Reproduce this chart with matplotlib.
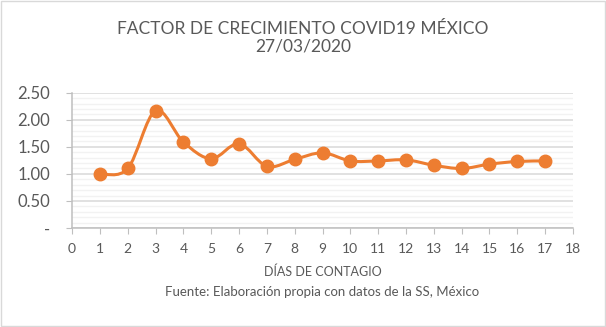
import numpy as np
import matplotlib.pyplot as plt
from matplotlib.path import Path
from matplotlib.patches import PathPatch, Rectangle
from matplotlib.ticker import MultipleLocator, FuncFormatter

plt.rcParams['font.family'] = ['Lato', 'DejaVu Sans']

# data
dias = [1, 2, 3, 4, 5, 6, 7, 8, 9, 10, 11, 12, 13, 14, 15, 16, 17]
factor = [1.00, 1.10, 2.17, 1.59, 1.28, 1.56, 1.14, 1.27, 1.39, 1.24,
          1.24, 1.26, 1.16, 1.10, 1.18, 1.23, 1.24]

title = 'FACTOR DE CRECIMIENTO COVID19 MÉXICO\n27/03/2020'
x_title = 'DÍAS DE CONTAGIO'
fuente = 'Fuente: Elaboración propia con datos de la SS, México'

orange = '#ED7D31'
gray_txt = '#595959'

fig = plt.figure(figsize=(6.06, 3.27), dpi=100)
ax = fig.add_axes([0.119, 0.303, 0.8265, 0.413])

# smoothed line (bezier segments through the points, like Excel "smoothed line")
pts = np.column_stack([dias, factor])
verts = [pts[0]]
codes = [Path.MOVETO]
n = len(pts)
for i in range(n - 1):
    p0 = pts[i - 1] if i > 0 else pts[i]
    p1 = pts[i]
    p2 = pts[i + 1]
    p3 = pts[i + 2] if i + 2 < n else pts[i + 1]
    verts += [p1 + (p2 - p0) / 6, p2 - (p3 - p1) / 6, p2]
    codes += [Path.CURVE4] * 3
ax.add_patch(PathPatch(Path(verts, codes), facecolor='none', edgecolor=orange,
                       lw=2.2, zorder=3, capstyle='round'))
ax.plot(dias, factor, linestyle='none', marker='o', markersize=9,
        color=orange, zorder=4)

ax.set_xlim(0, 18)
ax.set_ylim(0, 2.5)
ax.xaxis.set_major_locator(MultipleLocator(1))
ax.yaxis.set_major_locator(MultipleLocator(0.5))
ax.yaxis.set_minor_locator(MultipleLocator(0.1))
ax.yaxis.set_major_formatter(FuncFormatter(lambda v, p: '-' if abs(v) < 1e-9 else f'{v:.2f}'))

ax.grid(True, which='major', axis='y', color='#D9D9D9', lw=1.1, zorder=0)
ax.grid(True, which='minor', axis='y', color='#F2F2F2', lw=1.0, zorder=0)
ax.set_axisbelow(True)

for s in ['top', 'right']:
    ax.spines[s].set_visible(False)
for s in ['left', 'bottom']:
    ax.spines[s].set_color('#BFBFBF')
    ax.spines[s].set_linewidth(1.1)

ax.tick_params(axis='x', which='major', length=4, color='#BFBFBF',
               labelsize=10, labelcolor=gray_txt, pad=7)
ax.tick_params(axis='y', which='major', length=4, color='#BFBFBF',
               labelsize=12, labelcolor=gray_txt, pad=12)
ax.tick_params(axis='y', which='minor', length=0)

cx = 0.119 + 0.8265 / 2
fig.text(cx, 1 - 272 / 327, x_title, ha='center', va='center', fontsize=9, color=gray_txt)
fig.text(cx, 1 - 292 / 327, fuente, ha='center', va='center', fontsize=9.5, color=gray_txt)

fig.text(0.5, 1 - 21 / 327, title, ha='center', va='top', fontsize=12.5,
         color=gray_txt, linespacing=1.1)

fig.patches.append(Rectangle((0.002, 0.003), 0.996, 0.994, transform=fig.transFigure,
                             fill=False, edgecolor='#D9D9D9', lw=1))

fig.savefig('out.png', dpi=100)
